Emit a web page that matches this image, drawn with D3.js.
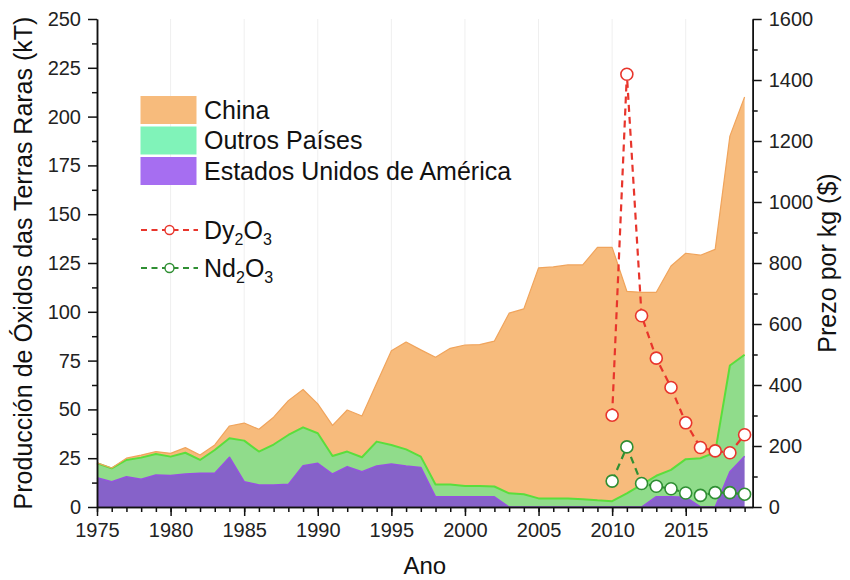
<!DOCTYPE html>
<html>
<head>
<meta charset="utf-8">
<script src="https://cdn.jsdelivr.net/npm/d3@7"></script>
<style>
  html, body { margin: 0; padding: 0; background: #fff; }
  svg { display: block; font-family: "Liberation Sans", Arial, Helvetica, sans-serif; }
</style>
</head>
<body>
<svg id="chart" width="850" height="580"></svg>
<script>
// Rare-earth oxide production by region (kT)
const years = [1975, 1976, 1977, 1978, 1979, 1980, 1981, 1982, 1983, 1984,
               1985, 1986, 1987, 1988, 1989, 1990, 1991, 1992, 1993, 1994,
               1995, 1996, 1997, 1998, 1999, 2000, 2001, 2002, 2003, 2004,
               2005, 2006, 2007, 2008, 2009, 2010, 2011, 2012, 2013, 2014,
               2015, 2016, 2017, 2018, 2019];
const usa = [15.0, 13.0, 15.5, 14.2, 16.4, 16.1, 16.9, 17.3, 17.3, 25.5,
             13.0, 11.3, 11.3, 11.6, 21.2, 22.4, 16.9, 20.7, 18.1, 21.0,
             22.0, 21.0, 20.3, 5.2, 5.2, 5.2, 5.2, 5.2, 0, 0,
             0, 0, 0, 0, 0, 0, 0, 0, 5.3, 5.3,
             5.0, 0, 0, 18.0, 26.0];
const others = [7.4, 6.8, 8.6, 11.1, 10.8, 9.7, 10.9, 6.8, 11.9, 9.7,
                21.0, 17.1, 20.7, 25.3, 19.6, 15.4, 9.2, 7.7, 7.4, 12.5,
                9.8, 8.5, 5.5, 6.3, 6.3, 5.6, 5.6, 5.3, 7.0, 6.5,
                4.4, 4.4, 4.4, 4.0, 3.4, 3.0, 7.0, 11.5, 10.7, 13.7,
                19.5, 25.0, 28.0, 54.5, 52.0];
const china = [0.2, 0.2, 0.9, 1.3, 1.2, 1.7, 2.6, 2.5, 2.6, 6.3,
               9.0, 11.4, 14.0, 17.6, 19.4, 15.0, 15.7, 21.3, 21.1, 29.9,
               48.2, 55.0, 54.7, 65.2, 69.8, 72.2, 72.4, 74.5, 92.3, 95.0,
               118.1, 118.6, 119.6, 120.0, 129.6, 130.0, 103.5, 98.5, 94.0, 104.5,
               105.5, 104.0, 104.0, 117.5, 132.0];

// Oxide prices ($/kg)
const priceYears = [2010, 2011, 2012, 2013, 2014, 2015, 2016, 2017, 2018, 2019];
const dyPrice = [301, 1419, 627, 488, 392, 276, 195, 184, 178, 237];
const ndPrice = [85, 197, 77, 68, 60, 46, 38, 47, 47, 42];

const prodTicks = [0, 25, 50, 75, 100, 125, 150, 175, 200, 225, 250];
const priceTicks = [0, 200, 400, 600, 800, 1000, 1200, 1400, 1600];
const yearTicks = [1975, 1980, 1985, 1990, 1995, 2000, 2005, 2010, 2015];

const regionNames = ["China", "Outros Países", "Estados Unidos de América"];

const svg = d3.select("#chart");
const W = 850, H = 580;
const margin = { left: 97, right: 97.3, top: 19, bottom: 73 };
const x0 = margin.left, x1 = W - margin.right;
const y0 = H - margin.bottom, y1 = margin.top;

const x = d3.scaleLinear().domain([1975, 2019.55]).range([x0, x1]);
const y = d3.scaleLinear().domain([0, 250]).range([y0, y1]);
const yP = d3.scaleLinear().domain([0, 1600]).range([y0, y1]);

const colors = {
  china: "#f7bb7c", chinaLine: "#f0a45c",
  others: "#90dc8b", othersLine: "#5ade3c",
  usa: "#8662c9", usaLine: "#9553de",
  legOthers: "#80f3b9", legUsa: "#a66ef1",
  dy: "#e8352c", nd: "#2f8f33"
};

// Faint vertical grid lines
svg.append("g")
  .selectAll("line")
  .data(yearTicks.filter(d => d > 1975))
  .join("line")
  .attr("x1", d => x(d)).attr("x2", d => x(d))
  .attr("y1", y0).attr("y2", y1)
  .attr("stroke", "#efefef").attr("stroke-width", 1);

// Stacked areas
const table = years.map((yr, i) => ({ year: yr, usa: usa[i], others: others[i], china: china[i] }));
const stack = d3.stack().keys(["usa", "others", "china"]);
const series = stack(table);
const area = d3.area()
  .x(d => x(d.data.year))
  .y0(d => y(d[0]))
  .y1(d => y(d[1]));
const topLine = d3.line()
  .x(d => x(d.data.year))
  .y(d => y(d[1]));

const fillOf = { usa: colors.usa, others: colors.others, china: colors.china };
const lineOf = { usa: colors.usaLine, others: colors.othersLine, china: colors.chinaLine };
const widthOf = { usa: 1.5, others: 2, china: 1.2 };

const areas = svg.append("g");
[...series].reverse().forEach(s => {
  areas.append("path").datum(s).attr("d", area).attr("fill", fillOf[s.key]);
});
series.forEach(s => {
  areas.append("path").datum(s).attr("d", topLine)
    .attr("fill", "none").attr("stroke", lineOf[s.key])
    .attr("stroke-width", widthOf[s.key]).attr("stroke-linejoin", "round");
});

// Price lines
function drawPrice(values, color) {
  const pts = priceYears.map((yr, i) => ({ year: yr, v: values[i] }));
  const g = svg.append("g");
  g.append("path").datum(pts)
    .attr("d", d3.line().x(d => x(d.year)).y(d => yP(d.v)))
    .attr("fill", "none").attr("stroke", color)
    .attr("stroke-width", 2.2).attr("stroke-dasharray", "7,5");
  g.selectAll("circle").data(pts).join("circle")
    .attr("cx", d => x(d.year)).attr("cy", d => yP(d.v)).attr("r", 6)
    .attr("fill", "#fff").attr("stroke", color).attr("stroke-width", 1.6);
}
drawPrice(dyPrice, colors.dy);
drawPrice(ndPrice, colors.nd);

// Axes
const tickFont = "20px";
function styleAxis(g) {
  g.select(".domain").attr("stroke", "#111").attr("stroke-width", 1.5);
  g.selectAll(".tick line").attr("stroke", "#111").attr("stroke-width", 1.5);
  g.selectAll(".tick text").attr("fill", "#222").style("font-size", tickFont);
}

// minor ticks
svg.append("g").attr("transform", `translate(0,${y0})`)
  .call(d3.axisBottom(x).tickValues(years).tickSize(5).tickFormat("").tickSizeOuter(0))
  .call(styleAxis);
svg.append("g").attr("transform", `translate(${x0},0)`)
  .call(d3.axisLeft(y).tickValues(d3.range(12.5, 250, 25)).tickSize(5).tickFormat("").tickSizeOuter(0))
  .call(styleAxis);
svg.append("g").attr("transform", `translate(${x1},0)`)
  .call(d3.axisRight(yP).tickValues(d3.range(100, 1600, 200)).tickSize(5).tickFormat("").tickSizeOuter(0))
  .call(styleAxis);

// major ticks
svg.append("g").attr("transform", `translate(0,${y0})`)
  .call(d3.axisBottom(x).tickValues(yearTicks).tickSize(9).tickPadding(7).tickFormat(d3.format("d")).tickSizeOuter(0))
  .call(styleAxis);
svg.append("g").attr("transform", `translate(${x0},0)`)
  .call(d3.axisLeft(y).tickValues(prodTicks).tickSize(9).tickPadding(7).tickSizeOuter(0))
  .call(styleAxis);
svg.append("g").attr("transform", `translate(${x1},0)`)
  .call(d3.axisRight(yP).tickValues(priceTicks).tickSize(9).tickPadding(7).tickFormat(d3.format("d")).tickSizeOuter(0))
  .call(styleAxis);

// Axis titles
svg.append("text")
  .attr("x", (x0 + x1) / 2).attr("y", 574)
  .attr("text-anchor", "middle").style("font-size", "24px").attr("fill", "#111")
  .text("Ano");
svg.append("text")
  .attr("transform", `translate(32,${(y0 + y1) / 2}) rotate(-90)`)
  .attr("text-anchor", "middle").style("font-size", "25px").attr("fill", "#111")
  .text("Producción de Óxidos das Terras Raras (kT)");
svg.append("text")
  .attr("transform", `translate(836,${(y0 + y1) / 2}) rotate(-90)`)
  .attr("text-anchor", "middle").style("font-size", "25px").attr("fill", "#111")
  .text("Prezo por kg ($)");

// Legend: regions
const legSw = [colors.china, colors.legOthers, colors.legUsa];
const leg = svg.append("g");
regionNames.forEach((name, i) => {
  const top = 96 + i * 30.5;
  leg.append("rect").attr("x", 140.5).attr("y", top).attr("width", 56).attr("height", 28)
    .attr("fill", legSw[i]);
  leg.append("text").attr("x", 204).attr("y", top + 22.5)
    .style("font-size", "25px").attr("fill", "#111").text(name);
});

// Legend: prices
const priceLeg = [
  { color: colors.dy, base: "Dy", cy: 230 },
  { color: colors.nd, base: "Nd", cy: 268 }
];
priceLeg.forEach(p => {
  leg.append("line").attr("x1", 141).attr("x2", 198).attr("y1", p.cy).attr("y2", p.cy)
    .attr("stroke", p.color).attr("stroke-width", 1.8).attr("stroke-dasharray", "6,4.5");
  leg.append("circle").attr("cx", 169.5).attr("cy", p.cy).attr("r", 4.5)
    .attr("fill", "#fff").attr("stroke", p.color).attr("stroke-width", 1.4);
  const t = leg.append("text").attr("x", 204).attr("y", p.cy + 9)
    .style("font-size", "25px").attr("fill", "#111");
  t.append("tspan").text(p.base);
  t.append("tspan").attr("dy", 6).style("font-size", "16px").text("2");
  t.append("tspan").attr("dy", -6).text("O");
  t.append("tspan").attr("dy", 6).style("font-size", "16px").text("3");
});
</script>
</body>
</html>
